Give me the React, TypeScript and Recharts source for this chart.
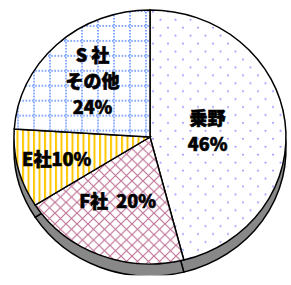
import { Cell, Pie, PieChart } from "recharts";

const names = ["乗野", "F社", "E社", "S社その他"];
const shares = [46, 20, 10, 24];
const labelLines = [["乗野", "46%"], ["F社  20%"], ["E社10%"], ["S 社", "その他", "24%"]];

const fills = ["url(#pDots)", "url(#pDiamond)", "url(#pStripe)", "url(#pGrid)"];
// distance of each label from the centre, and small angle nudges
const labelRadius = [58, 75, 96, 84];
const labelNudge = [0, -4, -1, 0];

const K = 0.934; // vertical squish of the tilted pie
const CX = 150;
const CY = 137;
const R = 136;

const chartData = names.map((name, i) => ({ name, value: shares[i] }));

function Patterns() {
  return (
    <svg width={0} height={0} style={{ position: "absolute" }}>
      <defs>
        <pattern id="pDots" patternUnits="userSpaceOnUse" width={15} height={17}>
          <rect width={15} height={17} fill="#fff" />
          <circle cx={3} cy={3} r={1.1} fill="#a0a0ff" />
          <circle cx={10.5} cy={11.5} r={1.1} fill="#a0a0ff" />
        </pattern>
        <pattern id="pGrid" patternUnits="userSpaceOnUse" width={16} height={16}>
          <rect width={16} height={16} fill="#fff" />
          <line x1={0} y1={2} x2={16} y2={2} stroke="#5b8cff" strokeWidth={1.6} strokeDasharray="1.6 1.6" />
          <line x1={2} y1={0} x2={2} y2={16} stroke="#5b8cff" strokeWidth={1.6} strokeDasharray="1.6 1.6" />
        </pattern>
        <pattern id="pStripe" patternUnits="userSpaceOnUse" width={5.5} height={10}>
          <rect width={5.5} height={10} fill="#fff" />
          <rect x={0} width={2} height={10} fill="#ffc800" />
        </pattern>
        <pattern id="pDiamond" patternUnits="userSpaceOnUse" width={11} height={11.5}>
          <rect width={11} height={11.5} fill="#fff" />
          <path d="M-1,-1.05 L12,12.55 M12,-1.05 L-1,12.55" stroke="#c07498" strokeWidth={1.2} />
        </pattern>
      </defs>
    </svg>
  );
}

function renderLabel(props: any) {
  const { cx, cy, midAngle, index } = props;
  const a = ((midAngle + labelNudge[index]) * Math.PI) / 180;
  const r = labelRadius[index];
  const x = cx + r * Math.cos(a);
  const y = cy - r * Math.sin(a);
  const lines = labelLines[index];
  const lh = 26;
  return (
    <text
      transform={`translate(${x} ${y}) scale(1 ${1 / K})`}
      textAnchor="middle"
      dominantBaseline="central"
      fontFamily="'Noto Sans CJK JP', sans-serif"
      fontWeight={900}
      fontSize={18}
      fill="#000"
      stroke="#000"
      strokeWidth={0.6}
      style={{ whiteSpace: "pre" }}
    >
      {lines.map((t, i) => (
        <tspan key={i} x={0} dy={i === 0 ? (-(lines.length - 1) / 2) * lh : lh}>
          {t}
        </tspan>
      ))}
    </text>
  );
}

export default function App() {
  return (
    <div style={{ position: "absolute", left: 0, top: 0, width: 291, height: 285, background: "#fff" }}>
      <Patterns />
      <div style={{ transform: `scaleY(${K})`, transformOrigin: `0 ${CY}px` }}>
        <PieChart width={291} height={285} margin={{ top: 0, right: 0, bottom: 0, left: 0 }}>
          <Pie
            data={chartData}
            dataKey="value"
            cx={CX}
            cy={CY + 13}
            outerRadius={R}
            startAngle={90}
            endAngle={-270}
            stroke="#000"
            strokeWidth={1.5}
            fill="#888"
            isAnimationActive={false}
          >
            {chartData.map((d) => (
              <Cell key={d.name} fill="#888" />
            ))}
          </Pie>
          <Pie
            data={chartData}
            dataKey="value"
            cx={CX}
            cy={CY}
            outerRadius={R}
            startAngle={90}
            endAngle={-270}
            stroke="#000"
            strokeWidth={1.5}
            label={renderLabel}
            labelLine={false}
            isAnimationActive={false}
          >
            {chartData.map((d, i) => (
              <Cell key={d.name} fill={fills[i]} />
            ))}
          </Pie>
        </PieChart>
      </div>
    </div>
  );
}
